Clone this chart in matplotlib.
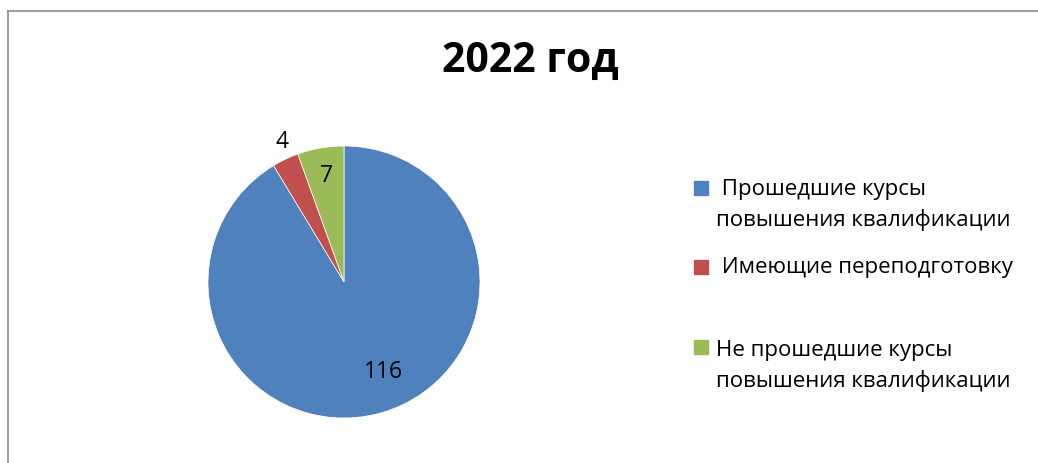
import matplotlib
matplotlib.use('Agg')
import matplotlib.pyplot as plt
from matplotlib.lines import Line2D
from matplotlib.patches import Rectangle

# data
categories = [' Прошедшие курсы\nповышения квалификации',
              ' Имеющие переподготовку',
              'Не прошедшие курсы\nповышения квалификации']
values = [116, 4, 7]
colors = ['#4F81BD', '#C0504D', '#9BBB59']
title = '2022 год'
# where each value label sits (pie data coords, radius = 1)
label_pos = [(0.29, -0.66), (-0.455, 1.03), (-0.13, 0.78)]

W, H = 1038, 463
FONT = ['Open Sans', 'DejaVu Sans']

fig = plt.figure(figsize=(W / 100, H / 100), dpi=100)

# pie axes: centre (344, 282) px, radius 136 px
cx, cy, r = 344, 282, 136
ax = fig.add_axes([(cx - r) / W, (H - cy - r) / H, 2 * r / W, 2 * r / H])
ax.pie(values, colors=colors, startangle=90, counterclock=False,
       radius=1, wedgeprops=dict(linewidth=0.5, edgecolor='white'))
ax.set_xlim(-1, 1)
ax.set_ylim(-1, 1)
ax.set_aspect('equal')
ax.axis('off')

for v, (x, y) in zip(values, label_pos):
    ax.text(x, y, str(v), ha='center', va='center', fontsize=16.5, family=FONT)

# title
fig.text(530 / W, 1 - 61 / H, title, ha='center', va='center',
         fontsize=29.5, fontweight='bold', family=FONT)

# legend, laid out like the original
sq = 14
# (square top, text left, baseline of the last text line) in px
leg_rows = [(181, 716, 226), (260, 716, 273), (340, 716, 387)]
for (top, tx, base), lab, c in zip(leg_rows, categories, colors):
    fig.add_artist(Rectangle((694 / W, 1 - (top + sq) / H), sq / W, sq / H,
                             transform=fig.transFigure, color=c))
    fig.text(tx / W, 1 - base / H, lab, ha='left', va='baseline',
             fontsize=16, family=FONT, linespacing=1.55,
             multialignment='left')

# chart frame (left + top edges visible)
fig.add_artist(Line2D([7.5 / W, 7.5 / W], [0, 1 - 10.5 / H], color='#8c8c8c', lw=1.2))
fig.add_artist(Line2D([7.5 / W, 1], [1 - 10.5 / H, 1 - 10.5 / H], color='#8c8c8c', lw=1.2))

fig.savefig('out.png', dpi=100, facecolor='white')
